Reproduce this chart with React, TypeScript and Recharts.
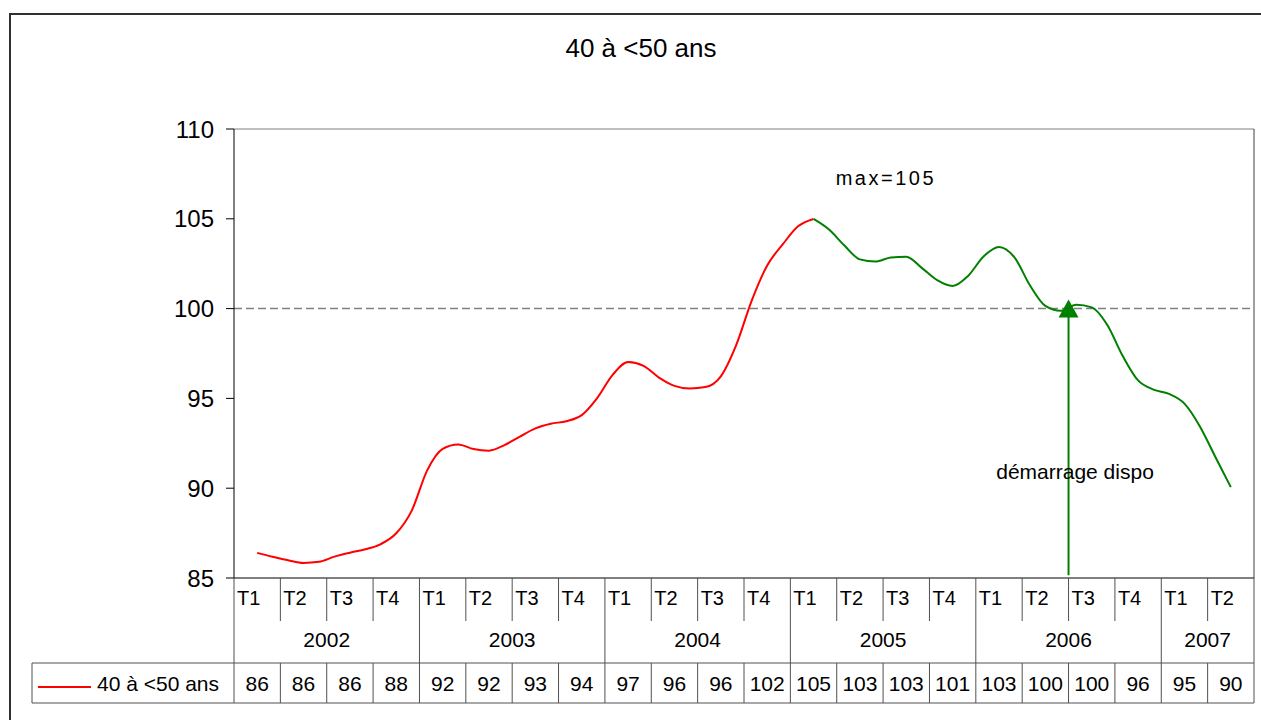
import { Line, LineChart, ReferenceDot, ReferenceLine, XAxis, YAxis } from "recharts";

const FONT = "'Liberation Sans', Arial, sans-serif";

const TITLE = "40 à <50 ans";
const SERIES_NAME = "40 à <50 ans";

// data table below the plot
const QUARTER_LABELS = [
  "T1", "T2", "T3", "T4", "T1", "T2", "T3", "T4", "T1", "T2", "T3", "T4",
  "T1", "T2", "T3", "T4", "T1", "T2", "T3", "T4", "T1", "T2",
];
const YEARS = ["2002", "2003", "2004", "2005", "2006", "2007"];
const QUARTER_VALUES = [86, 86, 86, 88, 92, 92, 93, 94, 97, 96, 96, 102, 105, 103, 103, 101, 103, 100, 100, 96, 95, 90];

// monthly index (first point = middle of 2002 T1)
const MONTHLY_VALUES = [
  86.4, 86.18, 85.99, 85.84, 85.9, 86.19, 86.41, 86.6, 86.89, 87.49, 88.75, 90.99,
  92.19, 92.44, 92.18, 92.09, 92.4, 92.87, 93.33, 93.59, 93.73, 94.07, 95.02, 96.31,
  97.02, 96.81, 96.16, 95.7, 95.55, 95.63, 96.23, 97.98, 100.45, 102.4, 103.57, 104.58,
  104.99, 104.4, 103.51, 102.74, 102.62, 102.85, 102.89, 102.27, 101.58, 101.26, 101.82, 102.9,
  103.43, 102.85, 101.3, 100.15, 99.88, 100.21, 100.07, 99.1, 97.37, 96.0, 95.49, 95.25,
  94.71, 93.44, 91.74, 90.06,
];
const MAX_INDEX = 36; // red before the max, green after

const Y_TICKS = [85, 90, 95, 100, 105, 110];
const START_X = 18; // "démarrage dispo" : start of 2006 T3

// layout
const W = 1261;
const H = 720;
const PLOT_LEFT = 234;
const PLOT_RIGHT = 1254;
const PLOT_TOP = 129;
const PLOT_BOTTOM = 578;
const CELL_W = (PLOT_RIGHT - PLOT_LEFT) / QUARTER_LABELS.length;
const ROW_T = 621;
const ROW_YEAR = 663;
const ROW_END = 703;
const LEGEND_LEFT = 32;
const GRID = "#505050";

const chartData = MONTHLY_VALUES.map((v, k) => ({
  x: 0.5 + k / 3,
  red: k <= MAX_INDEX ? v : null,
  green: k >= MAX_INDEX ? v : null,
}));

const quarterTicks = QUARTER_LABELS.map((_, i) => i + 0.5);

function TableTick(props: any) {
  const { x, payload } = props;
  const i = Math.round(payload.value - 0.5);
  const left = x - CELL_W / 2;
  const isYearStart = i % 4 === 0;
  const year = YEARS[Math.floor(i / 4)];
  const span = Math.min(4, QUARTER_LABELS.length - i);
  const isLast = i === QUARTER_LABELS.length - 1;

  return (
    <g fontFamily={FONT} fill="#000">
      {isYearStart ? (
        <line x1={left} x2={left} y1={PLOT_BOTTOM} y2={ROW_END} stroke={GRID} />
      ) : (
        <>
          <line x1={left} x2={left} y1={PLOT_BOTTOM} y2={ROW_T} stroke={GRID} />
          <line x1={left} x2={left} y1={ROW_YEAR} y2={ROW_END} stroke={GRID} />
        </>
      )}
      {isLast && <line x1={left + CELL_W} x2={left + CELL_W} y1={PLOT_BOTTOM} y2={ROW_END} stroke={GRID} />}
      <text x={left + 3} y={605} fontSize={20}>
        {QUARTER_LABELS[i]}
      </text>
      {isYearStart && (
        <text x={left + (span * CELL_W) / 2} y={647} fontSize={21} textAnchor="middle">
          {year}
        </text>
      )}
      <text x={x} y={691} fontSize={21} textAnchor="middle">
        {QUARTER_VALUES[i]}
      </text>
    </g>
  );
}

function ArrowHead(props: any) {
  const { cx, cy } = props;
  return <polygon points={`${cx},${cy - 9} ${cx - 10},${cy + 9} ${cx + 10},${cy + 9}`} fill="#008000" />;
}

function textMark(text: string, size: number, spacing = 0) {
  return (props: any) => (
    <text x={props.cx} y={props.cy} fontSize={size} fontFamily={FONT} textAnchor="middle" fill="#000" letterSpacing={spacing}>
      {text}
    </text>
  );
}

export default function App() {
  return (
    <div style={{ position: "absolute", left: 0, top: 0, width: W, height: H, overflow: "hidden", background: "#fff" }}>
      <svg width={W} height={H} style={{ position: "absolute", left: 0, top: 0 }}>
        <path d={`M10,${H + 10} V14 H${W + 10}`} fill="none" stroke="#303030" strokeWidth={2} />
        <text x={641} y={57} fontSize={26} fontFamily={FONT} textAnchor="middle">
          {TITLE}
        </text>
        <line x1={PLOT_LEFT} x2={PLOT_RIGHT} y1={PLOT_TOP} y2={PLOT_TOP} stroke="#808080" />
        <line x1={PLOT_RIGHT} x2={PLOT_RIGHT} y1={PLOT_TOP} y2={PLOT_BOTTOM} stroke="#404040" />
        <line x1={LEGEND_LEFT} x2={PLOT_RIGHT} y1={ROW_YEAR} y2={ROW_YEAR} stroke={GRID} />
        <line x1={LEGEND_LEFT} x2={PLOT_RIGHT} y1={ROW_END} y2={ROW_END} stroke={GRID} />
        <line x1={LEGEND_LEFT} x2={LEGEND_LEFT} y1={ROW_YEAR} y2={ROW_END} stroke={GRID} />
        <line x1={38} x2={91} y1={687} y2={687} stroke="#ff0000" strokeWidth={2} />
        <text x={97} y={691} fontSize={21} fontFamily={FONT}>
          {SERIES_NAME}
        </text>
      </svg>
      <div style={{ position: "absolute", left: 0, top: 0 }}>
        <LineChart width={W} height={H} data={chartData} margin={{ top: PLOT_TOP, right: W - PLOT_RIGHT, bottom: 17, left: 174 }}>
          <XAxis
            dataKey="x"
            type="number"
            domain={[0, QUARTER_LABELS.length]}
            ticks={quarterTicks}
            interval={0}
            tickLine={false}
            axisLine={{ stroke: "#000" }}
            height={125}
            tick={TableTick}
          />
          <YAxis
            domain={[85, 110]}
            ticks={Y_TICKS}
            width={60}
            tickSize={8}
            tickMargin={12}
            axisLine={{ stroke: "#000" }}
            tickLine={{ stroke: "#000" }}
            tick={{ fill: "#000", fontSize: 24, fontFamily: FONT }}
          />
          <ReferenceLine y={100} stroke="#808080" strokeWidth={1.5} strokeDasharray="8 4" />
          <Line dataKey="red" type="monotone" stroke="#ff0000" strokeWidth={2} dot={false} isAnimationActive={false} />
          <Line dataKey="green" type="monotone" stroke="#008000" strokeWidth={2} dot={false} isAnimationActive={false} />
          <ReferenceLine
            segment={[
              { x: START_X, y: 85.15 },
              { x: START_X, y: 100 },
            ]}
            stroke="#008000"
            strokeWidth={2}
          />
          <ReferenceDot x={START_X} y={100} shape={ArrowHead} ifOverflow="visible" />
          <ReferenceDot x={14.06} y={106.88} shape={textMark("max=105", 20, 2.5)} ifOverflow="visible" />
          <ReferenceDot x={18.14} y={90.51} shape={textMark("démarrage dispo", 21)} ifOverflow="visible" />
        </LineChart>
      </div>
    </div>
  );
}
